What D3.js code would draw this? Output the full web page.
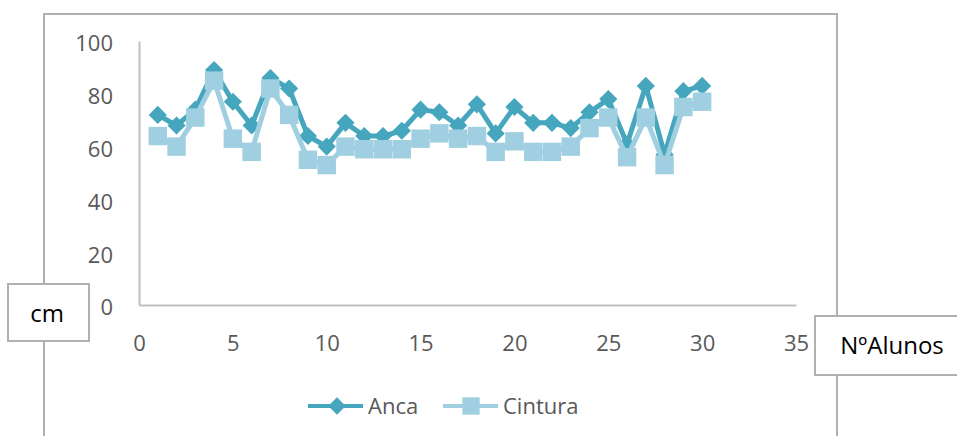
<!DOCTYPE html>
<html><head><meta charset="utf-8">
<script src="https://cdn.jsdelivr.net/npm/d3@7"></script>
<style>html,body{margin:0;padding:0;background:#fff;}svg{display:block;}</style>
</head><body>
<svg id="c" width="957" height="436"></svg>
<script>
const students = d3.range(1, 31);
const anca = [72,68,74,89,77,68,86,82,64,60,69,64,64,66,74,73,68,76,65,75,69,69,67,73,78,61,83,57,81,83];
const cintura = [64,60,71,85,63,58,82,72,55,53,60,59,59,59,63,65,63,64,58,62,58,58,60,67,71,56,71,53,75,77];
const xTicks = [0,5,10,15,20,25,30,35];
const yTicks = [0,20,40,60,80,100];
const seriesNames = ["Anca","Cintura"];
const colors = ["#45a6bd","#9fcfe0"];
const yLabel = "cm";
const xLabel = "NºAlunos";

const svg = d3.select("#c");
const font = "'Open Sans', sans-serif";
const x = d3.scaleLinear().domain([0,35]).range([139,796]);
const y = d3.scaleLinear().domain([0,100]).range([305,41]);

// outer chart border
svg.append("path").attr("d","M44,440 V14 H837 V440").attr("fill","none").attr("stroke","#b0b0b0").attr("stroke-width",2);

// axes
const xAxis = svg.append("g").attr("transform","translate(0,305)")
  .call(d3.axisBottom(x).tickValues(xTicks).tickSize(0).tickPadding(30));
xAxis.select(".domain").attr("stroke","#c0c0c0").attr("stroke-width",2);
xAxis.selectAll("text").attr("font-family",font).attr("font-size",22).attr("fill","#595959");

const yAxis = svg.append("g").attr("transform","translate(139,0)")
  .call(d3.axisLeft(y).tickValues(yTicks).tickSize(0).tickPadding(26));
yAxis.select(".domain").attr("stroke","#c0c0c0").attr("stroke-width",2);
yAxis.selectAll("text").attr("font-family",font).attr("font-size",22).attr("fill","#595959").attr("dy","0.45em");

const data = [anca, cintura];
const line = d3.line().x((d,i)=>x(students[i])).y(d=>y(d));
data.forEach((vals, s) => {
  svg.append("path").attr("d", line(vals)).attr("fill","none")
    .attr("stroke", colors[s]).attr("stroke-width",5).attr("stroke-linejoin","round");
  svg.append("g").selectAll("path").data(vals).join("path")
    .attr("d", d3.symbol().type(d3.symbolSquare).size(s===0?165:340)())
    .attr("transform",(d,i)=>`translate(${x(students[i])},${y(d)})` + (s===0?" rotate(45)":""))
    .attr("fill", colors[s]);
});

// legend
const legX = [308, 443];
seriesNames.forEach((n, s) => {
  const g = svg.append("g").attr("transform",`translate(${legX[s]},406)`);
  g.append("line").attr("x1",0).attr("x2",55).attr("stroke",colors[s]).attr("stroke-width",4);
  g.append("path").attr("d", d3.symbol().type(d3.symbolSquare).size(s===0?150:300)())
    .attr("transform", `translate(${s===0?29:28},0)` + (s===0?" rotate(45)":""))
    .attr("fill", colors[s]);
  g.append("text").attr("x",60).attr("y",0).attr("dy","0.36em").text(n)
    .attr("font-family",font).attr("font-size",22).attr("fill","#595959");
});

// axis title boxes
svg.append("rect").attr("x",8).attr("y",284).attr("width",81).attr("height",57)
  .attr("fill","#fff").attr("stroke","#b0b0b0").attr("stroke-width",2);
svg.append("text").attr("x",47).attr("y",313).attr("dy","0.36em").attr("text-anchor","middle")
  .attr("font-family",font).attr("font-size",24).attr("fill","#000").text(yLabel);
svg.append("rect").attr("x",815).attr("y",316).attr("width",150).attr("height",59)
  .attr("fill","#fff").attr("stroke","#b0b0b0").attr("stroke-width",2);
svg.append("text").attr("x",892).attr("y",345).attr("dy","0.36em").attr("text-anchor","middle")
  .attr("font-family",font).attr("font-size",24).attr("fill","#000").text(xLabel);
</script>
</body></html>
